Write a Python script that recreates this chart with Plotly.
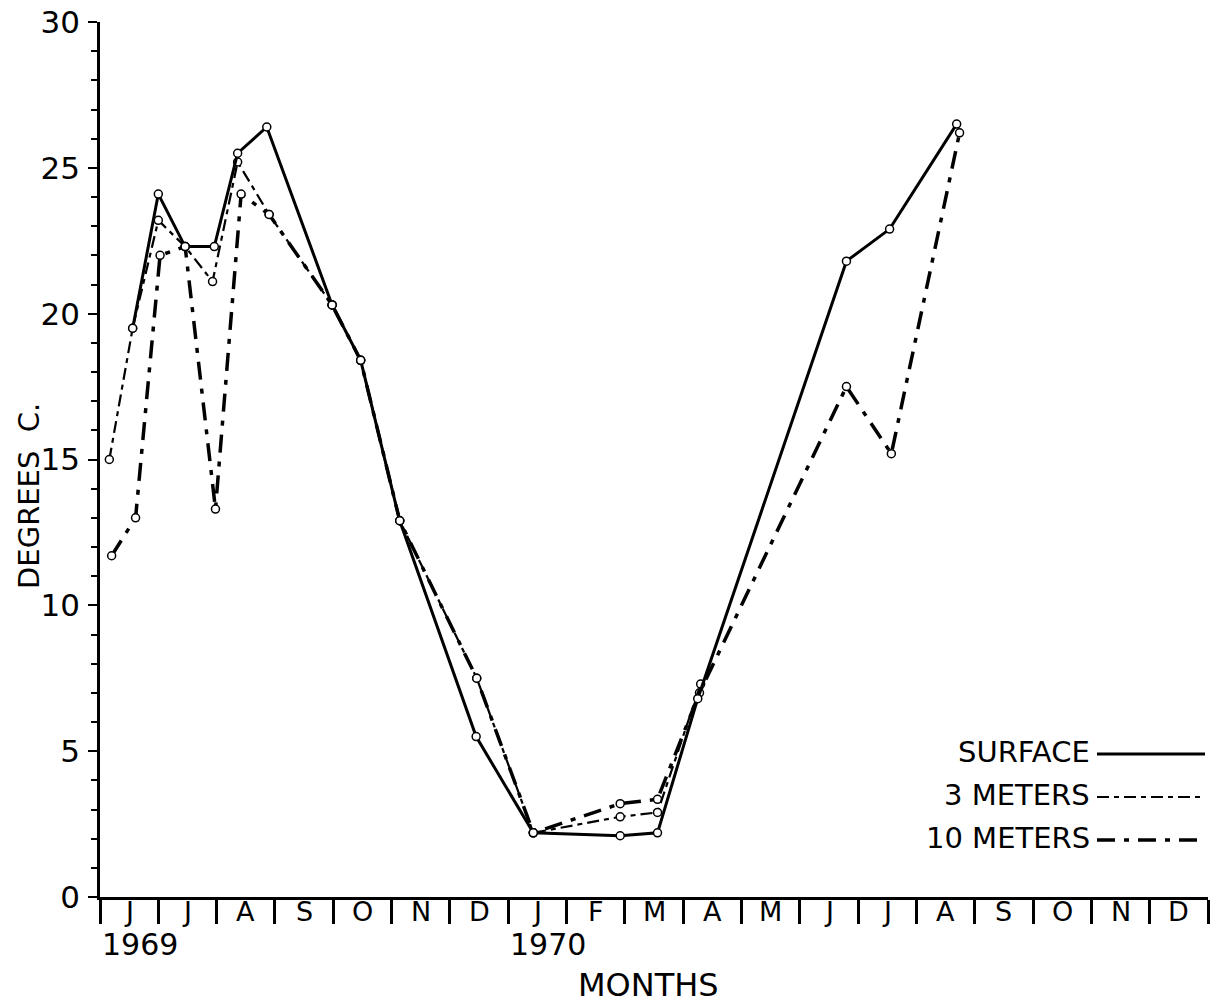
import plotly.graph_objects as go

# Month scale: 0 = start of June 1969, one unit per month
month_letters = ["J", "J", "A", "S", "O", "N", "D", "J", "F", "M", "A", "M", "J", "J", "A", "S", "O", "N", "D"]
year_labels = ["1969", "1970"]
year_starts = [0, 7]

surface_x = [0.56, 1.00, 1.46, 1.96, 2.36, 2.86, 3.98, 4.47, 5.14, 6.45, 7.43, 8.92, 9.56, 10.25, 12.80, 13.54, 14.69]
surface_y = [19.5, 24.1, 22.3, 22.3, 25.5, 26.4, 20.3, 18.4, 12.9, 5.5, 2.2, 2.1, 2.2, 6.8, 21.8, 22.9, 26.5]

m3_x = [0.16, 0.56, 1.00, 1.46, 1.93, 2.36, 2.90, 3.98, 4.47, 5.14, 6.46, 7.43, 8.92, 9.56, 10.30]
m3_y = [15.0, 19.5, 23.2, 22.3, 21.1, 25.2, 23.4, 20.3, 18.4, 12.9, 7.5, 2.2, 2.75, 2.9, 7.3]

m10_x = [0.20, 0.61, 1.03, 1.46, 1.98, 2.42, 2.90, 3.98, 4.47, 5.14, 6.46, 7.43, 8.92, 9.56, 10.28, 12.80, 13.57, 14.74]
m10_y = [11.7, 13.0, 22.0, 22.3, 13.3, 24.1, 23.4, 20.3, 18.4, 12.9, 7.5, 2.2, 3.2, 3.35, 7.0, 17.5, 15.2, 26.2]

FONT = "DejaVu Sans"
W, H = 1218, 1003
L, R, T, B = 100, 10, 22, 106
PW, PH = W - L - R, H - T - B


def px(x):
    return (x - L) / PW


def py(y):
    return (H - B - y) / PH


marker = dict(symbol="circle", size=8, color="white", line=dict(color="black", width=1.5))
DASH3 = "12px,5px,5px,5px"
DASH10 = "18px,9px,5px,9px"

fig = go.Figure()
fig.add_trace(go.Scatter(x=m10_x, y=m10_y, mode="lines+markers", name="10 METERS",
                         line=dict(color="black", width=3.5, dash=DASH10), marker=marker))
fig.add_trace(go.Scatter(x=m3_x, y=m3_y, mode="lines+markers", name="3 METERS",
                         line=dict(color="black", width=2.2, dash=DASH3), marker=marker))
fig.add_trace(go.Scatter(x=surface_x, y=surface_y, mode="lines+markers", name="SURFACE",
                         line=dict(color="black", width=3), marker=marker))

fig.update_layout(
    width=W, height=H,
    margin=dict(l=L, r=R, t=T, b=B, autoexpand=False),
    plot_bgcolor="white", paper_bgcolor="white",
    showlegend=False,
    font=dict(family=FONT, color="black"),
    xaxis=dict(range=[0, 19], tickvals=list(range(20)), ticktext=[""] * 20,
               ticks="outside", ticklen=24, tickwidth=2.5, tickcolor="black",
               showline=True, linecolor="black", linewidth=2.5,
               showgrid=False, zeroline=False, automargin=False),
    yaxis=dict(range=[0, 30], tickvals=[0, 5, 10, 15, 20, 25, 30],
               ticks="outside", ticklen=9, tickwidth=2, tickcolor="black",
               minor=dict(dtick=1, ticks="outside", ticklen=6, tickwidth=1.5, tickcolor="black"),
               showline=True, linecolor="black", linewidth=2.5,
               showgrid=False, zeroline=False, automargin=False,
               ticklabeloverflow="allow",
               tickfont=dict(size=31, family=FONT), ticklabelstandoff=2),
)

annotations = []
for i, letter in enumerate(month_letters):
    annotations.append(dict(x=i + 0.5, xref="x", y=py(911), yref="paper", text=letter, showarrow=False,
                            xanchor="center", yanchor="middle", font=dict(size=27, family=FONT)))
for label, xs in zip(year_labels, year_starts):
    annotations.append(dict(x=xs, xref="x", y=py(944), yref="paper", text=label, showarrow=False,
                            xanchor="left", yanchor="middle", font=dict(size=30, family=FONT)))
annotations.append(dict(x=px(648), xref="paper", y=py(985), yref="paper", text="MONTHS", showarrow=False,
                        xanchor="center", yanchor="middle", font=dict(size=32, family=FONT)))
annotations.append(dict(x=px(29), xref="paper", y=py(496), yref="paper", text="DEGREES  C.", showarrow=False,
                        textangle=-90, xanchor="center", yanchor="middle", font=dict(size=29, family=FONT)))

legend_items = [("SURFACE", 752, "solid", 3), ("3 METERS", 795, DASH3, 2.2),
                ("10 METERS", 838, DASH10, 3.5)]
shapes = []
for text, yy, dash, w in legend_items:
    annotations.append(dict(x=px(1092), xref="paper", y=py(yy), yref="paper", text=text, showarrow=False,
                            xanchor="right", yanchor="middle", font=dict(size=29, family=FONT)))
    shapes.append(dict(type="line", xref="paper", yref="paper", x0=px(1097), x1=px(1205),
                       y0=py(yy + 2), y1=py(yy + 2), line=dict(color="black", width=w, dash=dash)))

fig.update_layout(annotations=annotations, shapes=shapes)
fig.write_html("out.html", config={"displayModeBar": False},
               post_script="document.body.style.margin='0';")
